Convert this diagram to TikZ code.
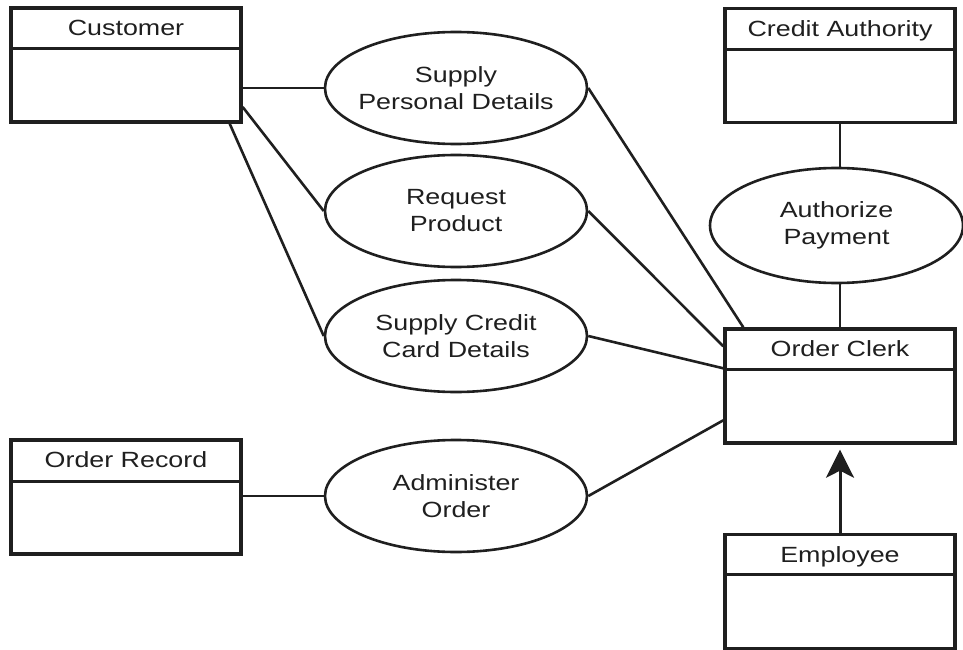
\documentclass[tikz,border=0pt]{standalone}
\usepackage{fontspec}
\setmainfont{Liberation Sans}[FakeStretch=1.22]
\usetikzlibrary{shapes.geometric,arrows.meta}

\definecolor{ink}{gray}{0.12}

\tikzset{
  classbox/.style={draw=ink, line width=3.4pt, minimum width=230pt, minimum height=114pt, inner sep=0pt},
  divider/.style={draw=ink, line width=2.8pt},
  usecase/.style={draw=ink, ellipse, line width=2.6pt, minimum width=262pt, minimum height=112pt,
                  inner xsep=-30pt, inner ysep=0pt, align=center, text=ink,
                  font=\fontsize{22}{27}\selectfont},
  title/.style={font=\fontsize{22}{27}\selectfont, text=ink, inner sep=0pt, anchor=base},
  link/.style={draw=ink, line width=2.6pt},
  gen/.style={draw=ink, fill=ink, line width=3pt, -{Stealth[length=28pt,width=28pt,inset=7pt]}, shorten >=5pt}
}

% a class box: name, centre, header height, title
\newcommand{\classnode}[4]{%
  \node[classbox] (#1) at (#2) {};
  \draw[divider] ([yshift=-#3pt]#1.north west) -- ([yshift=-#3pt]#1.north east);
  \node[title] (#1-t) at ([yshift=-29.5pt]#1.north) {#4};
}

\begin{document}
\begin{tikzpicture}[x=1pt,y=-1pt]
\useasboundingbox (0,0) rectangle (963,650);

% classes
\classnode{cust}{126,65}{42}{Customer}
\classnode{rec}{126,497}{43}{Order Record}
\classnode{auth}{840,65.5}{43}{Credit Authority}
\classnode{clerk}{840,386}{42}{Order Clerk}
\classnode{emp}{840,591.5}{42}{Employee}

% use cases
\node[usecase] (spd)   at (456,88)  {Supply\\Personal Details};
\node[usecase] (rp)    at (456,211) {Request\\Product};
\node[usecase] (sccd)  at (456,336) {Supply Credit\\Card Details};
\node[usecase] (adm)   at (456,496) {Administer\\Order};
\node[usecase, minimum width=253pt, minimum height=115pt] (pay) at (836.5,225.5) {Authorize\\Payment};

% associations
\draw[link] (spd.west -| cust.east) -- (spd.west);
\draw[link] ([yshift=-42pt]cust.east) -- (rp.west);
\draw[link] ([xshift=-13pt]cust.south east) -- (sccd.west);
\draw[link] (spd.east) -- ([xshift=20pt]clerk.north west);
\draw[link] (rp.east) -- ([yshift=-19pt]clerk.north west);
\draw[link] (sccd.east) -- ([yshift=-41pt]clerk.north west);
\draw[link] (adm.east) -- ([yshift=-93pt]clerk.north west);
\draw[link] (rec.east |- adm.west) -- (adm.west);
\draw[link] (auth.south) -- (auth.south |- pay.north);
\draw[link] (clerk.north |- pay.south) -- (clerk.north);

% generalization
\draw[gen] (emp.north) -- (clerk.south);
\end{tikzpicture}
\end{document}
